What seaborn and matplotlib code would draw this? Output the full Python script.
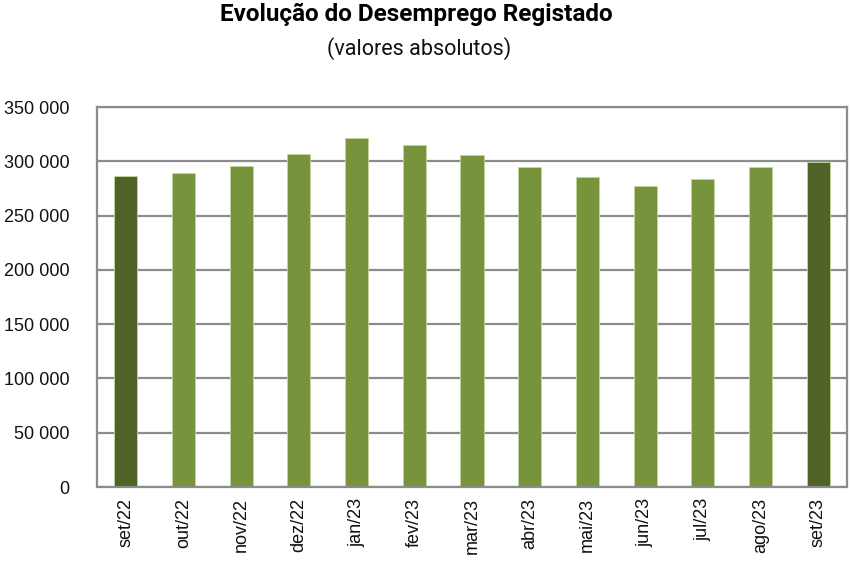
import matplotlib
matplotlib.use("Agg")
import matplotlib.pyplot as plt
import seaborn as sns
from matplotlib.ticker import FuncFormatter

months = ["set/22", "out/22", "nov/22", "dez/22", "jan/23", "fev/23", "mar/23",
    "abr/23", "mai/23", "jun/23", "jul/23", "ago/23", "set/23"]
desempregados = [286600, 288800, 296100, 306900, 321700, 315200, 305700,
    294900, 285400, 277400, 283900, 294900, 299800]

dark = "#4f6228"
light = "#77933c"
colors = [dark] + [light] * 11 + [dark]

sns.set_style("white")
plt.rcParams["font.family"] = ["Liberation Sans", "DejaVu Sans"]

fig = plt.figure(figsize=(8.51, 5.65), dpi=100)
ax = fig.add_axes([97 / 851, 78 / 565, 750 / 851, 380 / 565])

sns.barplot(x=months,
    y=desempregados,
    hue=months,
    palette=colors,
    saturation=1,
    legend=False,
    width=0.4,
    edgecolor="#c4d79b",
    linewidth=0.6,
    ax=ax)

ax.set_ylim(0, 350000)
ax.set_xlim(-0.5, len(months) - 0.5)
ax.set_yticks(range(0, 350001, 50000))
ax.yaxis.set_major_formatter(FuncFormatter(lambda v, p: f"{int(v):,}".replace(",", " ")))
ax.grid(axis="y", color="#8c8c8c", linewidth=1.6)
ax.set_axisbelow(True)
for s in ax.spines.values():
    s.set_color("#8c8c8c")
    s.set_linewidth(1.6)
ax.tick_params(axis="y", labelsize=13, length=0, pad=20, colors="#111111")
ax.tick_params(axis="x", labelsize=13, length=0, pad=8, rotation=90, colors="#111111")
ax.set_xlabel("")
ax.set_ylabel("")

fig.text(0.489, 0.995, "Evolução do Desemprego Registado", ha="center", va="top",
    fontsize=17.5, fontweight="bold", color="black", family=["Roboto", "DejaVu Sans"])
fig.text(0.492, 0.935, "(valores absolutos)", ha="center", va="top",
    fontsize=15.5, color="#111111", family=["Roboto", "DejaVu Sans"])

fig.savefig("out.png", dpi=100)
